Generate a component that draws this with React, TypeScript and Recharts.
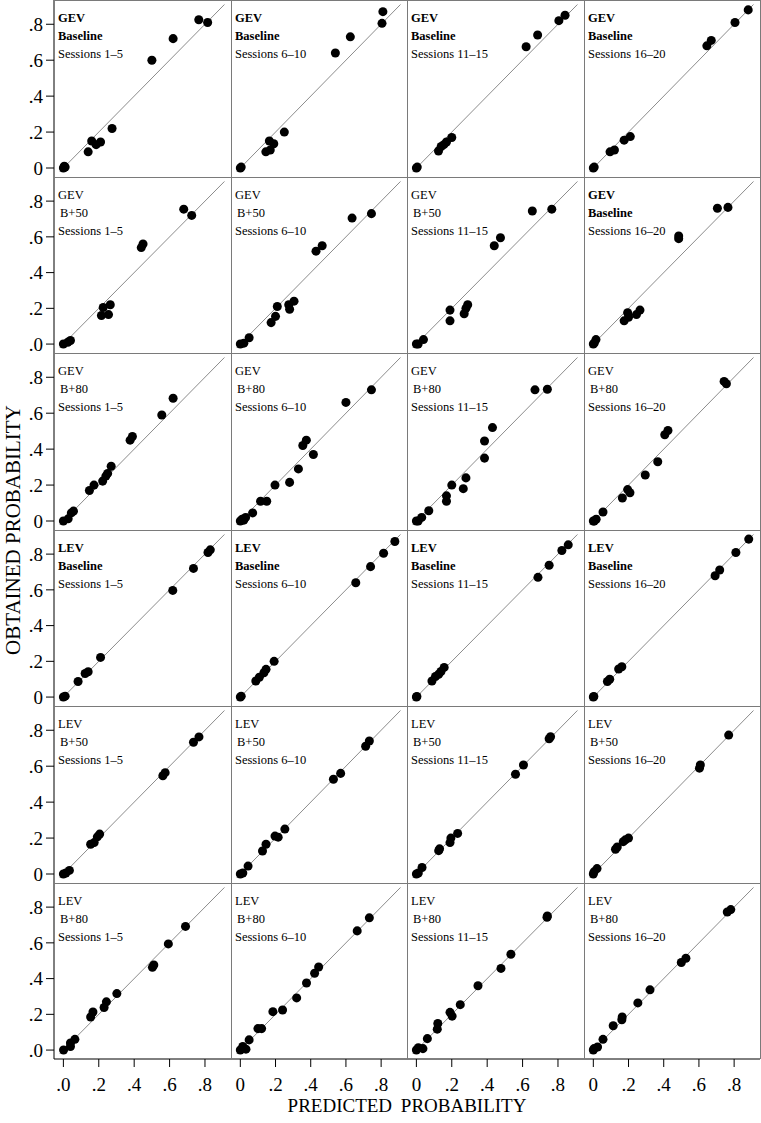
import React from "react";
import { ScatterChart, Scatter, XAxis, YAxis, ZAxis, ReferenceLine } from "recharts";

type Pt = [number, number];

// panel labels
const models = ["GEV", "GEV", "GEV", "LEV", "LEV", "LEV"];
const conditions = [
  ["Baseline", "Baseline", "Baseline", "Baseline"],
  ["B+50", "B+50", "B+50", "Baseline"],
  ["B+80", "B+80", "B+80", "B+80"],
  ["Baseline", "Baseline", "Baseline", "Baseline"],
  ["B+50", "B+50", "B+50", "B+50"],
  ["B+80", "B+80", "B+80", "B+80"],
];
const sessions = ["Sessions 1–5", "Sessions 6–10", "Sessions 11–15", "Sessions 16–20"];

const ticks = [0, 0.2, 0.4, 0.6, 0.8];
const yZeroLabels = ["0", ".0", "0", "0", "0", ".0"];
const xZeroLabels = [".0", "0", "0", "0"];

// [predicted, obtained]
const gevBase1: Pt[] = [[0, 0], [0.005, 0.01], [0.01, 0.005], [0.14, 0.09], [0.16, 0.15], [0.185, 0.13], [0.21, 0.145], [0.275, 0.22], [0.5, 0.6], [0.62, 0.72], [0.765, 0.825], [0.815, 0.81]];
const gevBase2: Pt[] = [[0, 0], [0.005, 0.005], [0.145, 0.09], [0.17, 0.1], [0.165, 0.15], [0.19, 0.135], [0.25, 0.2], [0.54, 0.64], [0.625, 0.73], [0.805, 0.805], [0.81, 0.87]];
const gevBase3: Pt[] = [[0, 0], [0.005, 0.005], [0.125, 0.095], [0.14, 0.12], [0.155, 0.13], [0.17, 0.145], [0.2, 0.17], [0.62, 0.675], [0.685, 0.74], [0.805, 0.82], [0.84, 0.85]];
const gevBase4: Pt[] = [[0, 0], [0.005, 0.005], [0.095, 0.09], [0.12, 0.1], [0.175, 0.155], [0.21, 0.175], [0.645, 0.68], [0.67, 0.71], [0.805, 0.81], [0.88, 0.88]];

const gev50a: Pt[] = [[0, 0], [0.025, 0.01], [0.04, 0.02], [0.215, 0.16], [0.225, 0.205], [0.255, 0.165], [0.265, 0.22], [0.44, 0.54], [0.45, 0.56], [0.68, 0.755], [0.725, 0.72]];
const gev50b: Pt[] = [[0, 0], [0.02, 0.005], [0.05, 0.035], [0.175, 0.12], [0.2, 0.155], [0.21, 0.21], [0.275, 0.22], [0.28, 0.195], [0.305, 0.24], [0.43, 0.52], [0.465, 0.55], [0.635, 0.705], [0.745, 0.73]];
const gev50c: Pt[] = [[0, 0], [0.01, 0], [0.04, 0.025], [0.19, 0.13], [0.19, 0.19], [0.27, 0.17], [0.28, 0.2], [0.29, 0.22], [0.44, 0.55], [0.475, 0.595], [0.655, 0.745], [0.765, 0.755]];
const gev50d: Pt[] = [[0, 0], [0.005, 0.005], [0.015, 0.025], [0.175, 0.13], [0.195, 0.175], [0.2, 0.15], [0.245, 0.165], [0.265, 0.19], [0.485, 0.59], [0.485, 0.605], [0.705, 0.76], [0.765, 0.765]];

const gev80a: Pt[] = [[0, 0], [0.027, 0.012], [0.045, 0.045], [0.057, 0.055], [0.147, 0.17], [0.173, 0.2], [0.222, 0.222], [0.24, 0.25], [0.25, 0.265], [0.27, 0.305], [0.377, 0.45], [0.39, 0.47], [0.556, 0.59], [0.62, 0.683]];
const gev80b: Pt[] = [[0, 0], [0.01, 0.01], [0.02, 0.005], [0.03, 0.02], [0.07, 0.045], [0.115, 0.11], [0.15, 0.11], [0.197, 0.2], [0.28, 0.215], [0.33, 0.29], [0.355, 0.42], [0.375, 0.45], [0.415, 0.37], [0.6, 0.66], [0.745, 0.73]];
const gev80c: Pt[] = [[0, 0], [0.01, 0], [0.03, 0.02], [0.07, 0.057], [0.17, 0.11], [0.17, 0.14], [0.2, 0.2], [0.265, 0.18], [0.28, 0.24], [0.385, 0.35], [0.385, 0.445], [0.43, 0.52], [0.67, 0.73], [0.74, 0.733]];
const gev80d: Pt[] = [[0, 0], [0.005, 0], [0.016, 0.01], [0.055, 0.05], [0.165, 0.128], [0.195, 0.175], [0.208, 0.157], [0.295, 0.256], [0.366, 0.33], [0.406, 0.48], [0.424, 0.504], [0.743, 0.777], [0.756, 0.764]];

const levBase1: Pt[] = [[0, 0], [0.01, 0.005], [0.083, 0.087], [0.123, 0.132], [0.14, 0.142], [0.21, 0.222], [0.618, 0.597], [0.735, 0.72], [0.817, 0.809], [0.83, 0.824]];
const levBase2: Pt[] = [[0, 0], [0.005, 0.005], [0.088, 0.09], [0.108, 0.111], [0.134, 0.136], [0.146, 0.155], [0.192, 0.2], [0.656, 0.64], [0.74, 0.73], [0.814, 0.805], [0.878, 0.871]];
const levBase3: Pt[] = [[0, 0], [0.003, 0.003], [0.088, 0.09], [0.108, 0.115], [0.126, 0.128], [0.139, 0.143], [0.157, 0.166], [0.687, 0.67], [0.75, 0.738], [0.822, 0.82], [0.858, 0.852]];
const levBase4: Pt[] = [[0, 0], [0.003, 0.003], [0.08, 0.087], [0.093, 0.1], [0.144, 0.157], [0.162, 0.17], [0.692, 0.679], [0.718, 0.711], [0.81, 0.809], [0.883, 0.884]];

const lev50a: Pt[] = [[0, 0], [0.014, 0.006], [0.034, 0.02], [0.154, 0.166], [0.174, 0.175], [0.192, 0.207], [0.205, 0.222], [0.562, 0.547], [0.575, 0.564], [0.735, 0.733], [0.766, 0.763]];
const lev50b: Pt[] = [[0, 0], [0.014, 0.006], [0.044, 0.044], [0.126, 0.128], [0.146, 0.166], [0.197, 0.211], [0.215, 0.205], [0.253, 0.25], [0.529, 0.527], [0.57, 0.56], [0.712, 0.711], [0.733, 0.74]];
const lev50c: Pt[] = [[0, 0], [0.011, 0.006], [0.032, 0.036], [0.126, 0.13], [0.131, 0.14], [0.19, 0.175], [0.195, 0.2], [0.233, 0.226], [0.56, 0.555], [0.605, 0.607], [0.75, 0.753], [0.758, 0.764]];
const lev50d: Pt[] = [[0, 0], [0.004, 0.012], [0.021, 0.03], [0.126, 0.138], [0.136, 0.15], [0.17, 0.18], [0.182, 0.19], [0.2, 0.2], [0.603, 0.589], [0.608, 0.607], [0.769, 0.773]];

const lev80a: Pt[] = [[0.001, 0], [0.04, 0.02], [0.04, 0.04], [0.065, 0.06], [0.154, 0.185], [0.167, 0.213], [0.23, 0.238], [0.243, 0.27], [0.302, 0.316], [0.503, 0.463], [0.511, 0.476], [0.593, 0.594], [0.69, 0.692]];
const lev80b: Pt[] = [[0, 0], [0.014, 0.02], [0.032, 0.005], [0.05, 0.057], [0.1, 0.12], [0.121, 0.12], [0.185, 0.215], [0.24, 0.224], [0.32, 0.292], [0.376, 0.375], [0.422, 0.43], [0.445, 0.465], [0.664, 0.667], [0.733, 0.74]];
const lev80c: Pt[] = [[0, 0], [0.011, 0.013], [0.037, 0.008], [0.062, 0.064], [0.118, 0.117], [0.121, 0.149], [0.19, 0.211], [0.202, 0.19], [0.248, 0.254], [0.348, 0.36], [0.478, 0.457], [0.534, 0.536], [0.738, 0.743], [0.74, 0.75]];
const lev80d: Pt[] = [[0, 0], [0.004, 0.008], [0.024, 0.017], [0.055, 0.06], [0.113, 0.136], [0.162, 0.17], [0.164, 0.185], [0.253, 0.264], [0.322, 0.337], [0.5, 0.49], [0.526, 0.514], [0.761, 0.773], [0.781, 0.786]];

const panels: Pt[][][] = [
  [gevBase1, gevBase2, gevBase3, gevBase4],
  [gev50a, gev50b, gev50c, gev50d],
  [gev80a, gev80b, gev80c, gev80d],
  [levBase1, levBase2, levBase3, levBase4],
  [lev50a, lev50b, lev50c, lev50d],
  [lev80a, lev80b, lev80c, lev80d],
];

const COL_X = [54, 231, 407, 584, 760];
const ROW_Y = [0, 177, 353, 530, 706, 883, 1059];
const Y_AXIS_W = 54;
const X_AXIS_H = 40;
const PAD = 12; // extra room so tick text near panel edges isn't clipped
const X_DOMAIN = [-0.053, 0.947];
const Y_DOMAIN = [-0.05, 0.935];
const SERIF = "Liberation Serif";

function fmt(v: number, zero: string) {
  if (v === 0) return zero;
  return "." + Math.round(v * 10);
}

const makeYTick = (zero: string) => (props: any) => {
  const { x, y, payload } = props;
  return (
    <text x={x} y={y} dy="0.36em" textAnchor="end" fontFamily={SERIF} fontSize={19} fill="#000">
      {fmt(payload.value, zero)}
    </text>
  );
};

const makeXTick = (zero: string) => (props: any) => {
  const { x, y, payload } = props;
  return (
    <text x={x} y={y} dy="0.72em" textAnchor="middle" fontFamily={SERIF} fontSize={19} fill="#000">
      {fmt(payload.value, zero)}
    </text>
  );
};

function Panel({ r, c }: { r: number; c: number }) {
  const isLeft = c === 0;
  const isBottom = r === 5;
  const pw = COL_X[c + 1] - COL_X[c];
  const ph = ROW_Y[r + 1] - ROW_Y[r];
  const data = panels[r][c].map(([x, y]) => ({ x, y }));
  return (
    <div
      style={{
        position: "absolute",
        left: (isLeft ? 0 : COL_X[c]) - PAD,
        top: ROW_Y[r] - PAD,
      }}
    >
      <ScatterChart
        width={pw + (isLeft ? Y_AXIS_W : 0) + PAD * 2}
        height={ph + (isBottom ? X_AXIS_H : 0) + PAD * 2}
        margin={{ top: PAD, right: PAD, bottom: PAD, left: PAD }}
      >
        <XAxis
          type="number"
          dataKey="x"
          domain={X_DOMAIN}
          allowDataOverflow
          ticks={ticks}
          hide={!isBottom}
          height={X_AXIS_H}
          tickSize={8}
          tickMargin={10}
          tick={makeXTick(xZeroLabels[c])}
          tickLine={{ stroke: "#000" }}
          axisLine={{ stroke: "#000" }}
          interval={0}
        />
        <YAxis
          type="number"
          dataKey="y"
          domain={Y_DOMAIN}
          allowDataOverflow
          ticks={ticks}
          hide={!isLeft}
          width={Y_AXIS_W}
          tickSize={8}
          tickMargin={3}
          tick={makeYTick(yZeroLabels[r])}
          tickLine={{ stroke: "#000" }}
          axisLine={{ stroke: "#000" }}
          interval={0}
        />
        <ZAxis range={[44, 44]} />
        <ReferenceLine
          segment={[{ x: -0.02, y: -0.02 }, { x: 0.91, y: 0.91 }]}
          stroke="#8c8c8c"
          strokeWidth={1}
        />
        <Scatter data={data} fill="#000" isAnimationActive={false} />
      </ScatterChart>
    </div>
  );
}

export default function App() {
  const cells: React.ReactNode[] = [];
  const frames: React.ReactNode[] = [];
  const labels: React.ReactNode[] = [];
  for (let r = 0; r < 6; r++) {
    for (let c = 0; c < 4; c++) {
      cells.push(<Panel key={`p-${r}-${c}`} r={r} c={c} />);
      const pw = COL_X[c + 1] - COL_X[c];
      const ph = ROW_Y[r + 1] - ROW_Y[r];
      frames.push(
        <div
          key={`f-${r}-${c}`}
          style={{
            position: "absolute",
            left: COL_X[c],
            top: ROW_Y[r],
            width: pw + 1,
            height: ph,
            boxSizing: "border-box",
            borderTop: "1px solid #7a7a7a",
            borderLeft: c === 0 ? "none" : "1px solid #7a7a7a",
            borderRight: c === 3 ? "1px solid #7a7a7a" : "none",
            pointerEvents: "none",
          }}
        />
      );
      const cond = conditions[r][c];
      const bold = cond === "Baseline";
      labels.push(
        <div
          key={`l-${r}-${c}`}
          style={{
            position: "absolute",
            left: COL_X[c] + 4,
            top: ROW_Y[r] + 9,
            fontFamily: SERIF,
            fontSize: 12.5,
            lineHeight: "18px",
            color: "#000",
            whiteSpace: "pre",
          }}
        >
          <div style={{ fontWeight: bold ? "bold" : "normal" }}>{models[r]}</div>
          <div style={{ fontWeight: bold ? "bold" : "normal", paddingLeft: bold ? 0 : 2 }}>{cond}</div>
          <div>{sessions[c]}</div>
        </div>
      );
    }
  }
  return (
    <div
      style={{
        position: "absolute",
        left: 0,
        top: 0,
        width: 761,
        height: 1123,
        background: "#fff",
        overflow: "hidden",
      }}
    >
      {cells}
      {frames}
      {labels}
      <div
        style={{
          position: "absolute",
          left: 207,
          top: 1095,
          width: 400,
          textAlign: "center",
          fontFamily: SERIF,
          fontSize: 19,
          wordSpacing: 4,
          color: "#000",
        }}
      >
        PREDICTED PROBABILITY
      </div>
      <div
        style={{
          position: "absolute",
          left: 13 - 200,
          top: 530 - 13,
          width: 400,
          height: 26,
          lineHeight: "26px",
          textAlign: "center",
          fontFamily: SERIF,
          fontSize: 21,
          color: "#000",
          transform: "rotate(-90deg)",
          transformOrigin: "center",
        }}
      >
        OBTAINED PROBABILITY
      </div>
    </div>
  );
}
